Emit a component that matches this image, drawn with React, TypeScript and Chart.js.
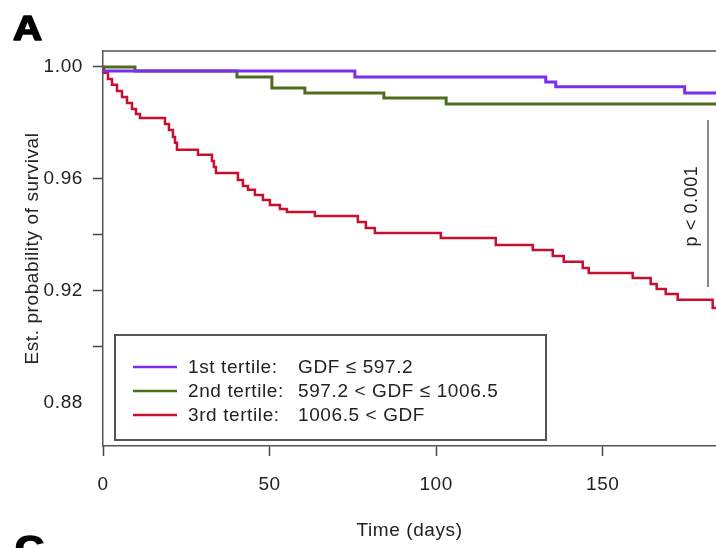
import React, { useEffect, useRef } from "react";
import { Chart, registerables } from "chart.js";

Chart.register(...registerables);

// ---- Data ----
const SERIES_NAMES = ["1st tertile", "2nd tertile", "3rd tertile"];
const LEGEND_LABELS = ["1st tertile:", "2nd tertile:", "3rd tertile:"];
const LEGEND_CONDITIONS = ["GDF \u2264 597.2", "597.2 < GDF \u2264 1006.5", "1006.5 < GDF"];
const SERIES_COLORS = ["#7A2EF0", "#4E6E1E", "#C8102E"];

const TIME_1ST = [0, 75.6, 132.9, 135.9, 174.6, 184];
const SURV_1ST = [0.9986, 0.9964, 0.9946, 0.9929, 0.9907, 0.9907];

const TIME_2ND = [0, 9.6, 40.2, 50.7, 60.6, 84.3, 103, 184];
const SURV_2ND = [1.0, 0.9986, 0.9964, 0.9925, 0.9907, 0.9889, 0.9868, 0.9868];

const TIME_3RD = [
  0, 0.3, 1.5, 2.7, 4.2, 5.7, 7.2, 8.7, 9.9, 11.1,
  18.6, 19.8, 21.0, 21.6, 22.2, 28.5, 32.7, 33.3, 33.9,
  40.5, 42.0, 43.5, 45.6, 48.0, 50.1, 53.1, 55.2, 63.6,
  76.5, 78.9, 81.6, 101.4, 117.9, 129.0, 135.0, 138.3, 144.0, 145.8,
  159.0, 164.4, 166.2, 168.9, 172.5, 183.0, 184,
];
const SURV_3RD = [
  1.0, 0.9979, 0.9957, 0.9936, 0.9914, 0.9893, 0.9871, 0.985, 0.9832, 0.9818,
  0.9796, 0.9775, 0.975, 0.9729, 0.9704, 0.9686, 0.9664, 0.9643, 0.9621,
  0.9596, 0.9575, 0.9561, 0.9543, 0.9525, 0.9507, 0.9493, 0.9482, 0.9468,
  0.9446, 0.9425, 0.9407, 0.9389, 0.9364, 0.9346, 0.9325, 0.9304, 0.9282, 0.9264,
  0.9246, 0.9225, 0.9207, 0.9189, 0.9168, 0.9139, 0.9139,
];

const X_TICKS = [0, 50, 100, 150];
const Y_TICKS = [0.88, 0.9, 0.92, 0.94, 0.96, 0.98, 1.0];
const Y_LABELLED = ["0.88", "0.92", "0.96", "1.00"];
const Y_MARKED = ["0.90", "0.92", "0.94", "0.96", "1.00"];
const X_MIN = 0;
const X_MAX = 184;
const Y_MIN = 0.8646;
const Y_MAX = 1.0057;

const X_TITLE = "Time (days)";
const Y_TITLE = "Est. probability of survival";
const P_TEXT = "p < 0.001";
const PANEL_A = "A";
const PANEL_C = "C";

const FONT = "'Liberation Sans', Arial, Helvetica, sans-serif";
const SPACING = "0.6px";

function toPoints(t: number[], s: number[]) {
  return t.map((x, i) => ({ x, y: s[i] }));
}

function setSpacing(chart: any) {
  const ctx = chart.ctx as any;
  if (ctx && "letterSpacing" in ctx) ctx.letterSpacing = SPACING;
}

const spacing = {
  id: "spacing",
  beforeUpdate: setSpacing,
  beforeLayout: setSpacing,
  beforeDraw: setSpacing,
};

function drawPanelLetter(ctx: CanvasRenderingContext2D, text: string, x: number, y: number) {
  ctx.save();
  ctx.translate(x, y);
  ctx.scale(1.15, 1);
  ctx.fillText(text, 0, 0);
  ctx.strokeText(text, 0, 0);
  ctx.restore();
}

const decorations = {
  id: "decorations",
  afterDraw(chart: any) {
    const ctx = chart.ctx as CanvasRenderingContext2D;
    const area = chart.chartArea;
    ctx.save();
    (ctx as any).letterSpacing = SPACING;
    // top border of the plot box
    ctx.strokeStyle = "#555";
    ctx.lineWidth = 1.5;
    ctx.beginPath();
    ctx.moveTo(area.left, area.top);
    ctx.lineTo(area.right, area.top);
    ctx.stroke();

    // legend box
    ctx.fillStyle = "#fff";
    ctx.fillRect(115, 335, 431, 105);
    ctx.strokeStyle = "#555";
    ctx.lineWidth = 2;
    ctx.strokeRect(115, 335, 431, 105);
    ctx.font = `19px ${FONT}`;
    ctx.textBaseline = "middle";
    ctx.textAlign = "left";
    ctx.fillStyle = "#222";
    LEGEND_LABELS.forEach((lab, i) => {
      const y = 367 + i * 24;
      ctx.strokeStyle = SERIES_COLORS[i];
      ctx.lineWidth = 2.5;
      ctx.beginPath();
      ctx.moveTo(133, y);
      ctx.lineTo(177, y);
      ctx.stroke();
      ctx.fillText(lab, 188, y + 1);
      ctx.fillText(LEGEND_CONDITIONS[i], 298, y + 1);
    });

    // p-value bracket
    ctx.strokeStyle = "#888";
    ctx.lineWidth = 2;
    ctx.beginPath();
    ctx.moveTo(708, 120);
    ctx.lineTo(708, 287);
    ctx.stroke();
    ctx.save();
    ctx.translate(692, 206);
    ctx.rotate(-Math.PI / 2);
    ctx.textAlign = "center";
    ctx.textBaseline = "middle";
    ctx.font = `18px ${FONT}`;
    ctx.fillStyle = "#222";
    ctx.fillText(P_TEXT, 0, 0);
    ctx.restore();

    // panel letters
    ctx.fillStyle = "#000";
    ctx.strokeStyle = "#000";
    ctx.lineWidth = 1.6;
    ctx.lineJoin = "round";
    ctx.font = `bold 35px ${FONT}`;
    ctx.textAlign = "left";
    ctx.textBaseline = "alphabetic";
    drawPanelLetter(ctx, PANEL_A, 13, 40);
    drawPanelLetter(ctx, PANEL_C, 15, 560);
    ctx.restore();
  },
};

export default function App() {
  const ref = useRef<HTMLCanvasElement | null>(null);
  useEffect(() => {
    if (!ref.current) return;
    const chart = new Chart(ref.current, {
      type: "line",
      data: {
        datasets: [
          {
            label: SERIES_NAMES[0],
            data: toPoints(TIME_1ST, SURV_1ST),
            borderColor: SERIES_COLORS[0],
            borderWidth: 3,
            stepped: true,
            pointRadius: 0,
          },
          {
            label: SERIES_NAMES[1],
            data: toPoints(TIME_2ND, SURV_2ND),
            borderColor: SERIES_COLORS[1],
            borderWidth: 3,
            stepped: true,
            pointRadius: 0,
          },
          {
            label: SERIES_NAMES[2],
            data: toPoints(TIME_3RD, SURV_3RD),
            borderColor: SERIES_COLORS[2],
            borderWidth: 2.5,
            stepped: true,
            pointRadius: 0,
          },
        ],
      },
      options: {
        animation: false,
        responsive: false,
        layout: { padding: { top: 51, left: 0, right: 0, bottom: 0 } },
        plugins: { legend: { display: false }, tooltip: { enabled: false } },
        scales: {
          x: {
            type: "linear",
            min: X_MIN,
            max: X_MAX,
            afterBuildTicks: (scale: any) => {
              scale.ticks = X_TICKS.map((v) => ({ value: v }));
            },
            afterFit: (scale: any) => {
              scale.height = 102;
            },
            grid: {
              drawOnChartArea: false,
              drawTicks: true,
              tickLength: 10,
              tickColor: "#444",
              tickWidth: 1.5,
            },
            border: { display: true, color: "#555", width: 1.5 },
            ticks: {
              padding: 17,
              color: "#222",
              font: { family: FONT, size: 19 },
              maxRotation: 0,
              callback: (v: any) => String(v),
            },
            title: {
              display: true,
              text: X_TITLE,
              color: "#222",
              font: { family: FONT, size: 19 },
              padding: { top: 0, bottom: 6 },
            },
          },
          y: {
            type: "linear",
            min: Y_MIN,
            max: Y_MAX,
            afterBuildTicks: (scale: any) => {
              scale.ticks = Y_TICKS.map((v) => ({ value: v }));
            },
            afterFit: (scale: any) => {
              scale.width = 103;
            },
            grid: {
              drawOnChartArea: false,
              drawTicks: true,
              tickLength: 10,
              tickWidth: 1.5,
              tickColor: (c: any) =>
                c.tick && Y_MARKED.includes(Number(c.tick.value).toFixed(2)) ? "#444" : "rgba(0,0,0,0)",
            },
            border: { display: true, color: "#555", width: 1.5 },
            ticks: {
              padding: 10,
              color: "#222",
              font: { family: FONT, size: 19 },
              callback: (v: any) => {
                const s = Number(v).toFixed(2);
                return Y_LABELLED.includes(s) ? s : "";
              },
            },
            title: {
              display: true,
              text: Y_TITLE,
              color: "#222",
              font: { family: FONT, size: 19 },
              padding: { top: 21, bottom: 0 },
            },
          },
        },
      },
      plugins: [spacing, decorations],
    });
    return () => chart.destroy();
  }, []);
  return (
    <div style={{ position: "absolute", left: 0, top: 0, width: 716, height: 548, background: "#fff" }}>
      <canvas ref={ref} width={716} height={548} style={{ display: "block" }} />
    </div>
  );
}
